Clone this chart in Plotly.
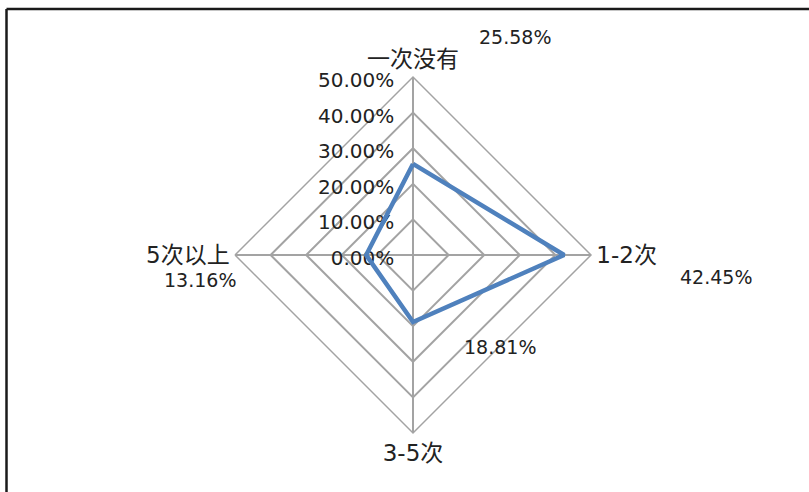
import plotly.graph_objects as go

categories = ["一次没有", "1-2次", "3-5次", "5次以上"]
values = [0.2558, 0.4245, 0.1881, 0.1316]
tick_vals = [0, 0.1, 0.2, 0.3, 0.4, 0.5]

FONT = "DejaVu Sans, Noto Sans CJK SC, sans-serif"
GRID = "#a3a3a3"
LINE = "#4f81bd"

fig = go.Figure()
fig.add_trace(go.Scatterpolar(
    r=values + values[:1],
    theta=categories + categories[:1],
    mode="lines",
    line=dict(color=LINE, width=4.5),
    showlegend=False,
    hoverinfo="skip",
))

# data label positions (paper px) for each category
label_pos = [(515, 37), (716, 277), (500, 347), (200, 280)]
W, H = 809, 492
for v, (px, py) in zip(values, label_pos):
    fig.add_annotation(
        x=px / W, y=1 - py / H, xref="paper", yref="paper",
        text=f"{v*100:.2f}%", showarrow=False,
        font=dict(family=FONT, size=19, color="#222222"),
        xanchor="center", yanchor="middle",
    )

fig.update_layout(
    width=W, height=H,
    margin=dict(l=0, r=0, t=0, b=0),
    paper_bgcolor="white",
    plot_bgcolor="white",
    font=dict(family=FONT, size=20, color="#222222"),
    polar=dict(
        domain=dict(x=[235 / W, 591 / W], y=[1 - 433 / H, 1 - 77 / H]),
        bgcolor="white",
        gridshape="linear",
        radialaxis=dict(
            range=[0, 0.5],
            tickvals=tick_vals,
            tickformat=".2%",
            angle=90,
            side="counterclockwise",
            showline=True,
            linecolor=GRID,
            linewidth=1.5,
            gridcolor=GRID,
            gridwidth=1.5,
            ticks="",
            tickfont=dict(family=FONT, size=20, color="#222222"),
            layer="below traces",
        ),
        angularaxis=dict(
            direction="clockwise",
            rotation=90,
            showline=True,
            linecolor=GRID,
            linewidth=1.5,
            gridcolor=GRID,
            gridwidth=1.5,
            ticks="",
            tickfont=dict(family=FONT, size=23, color="#222222"),
            layer="below traces",
        ),
    ),
    shapes=[
        dict(type="line", xref="paper", yref="paper", x0=6.5 / W, x1=1, y0=1 - 9 / H, y1=1 - 9 / H,
             line=dict(color="#1a1a1a", width=2.5)),
        dict(type="line", xref="paper", yref="paper", x0=6.5 / W, x1=6.5 / W, y0=0, y1=1 - 9 / H,
             line=dict(color="#1a1a1a", width=2.5)),
    ],
)

fig.write_html("out.html", config={"displayModeBar": False},
               post_script="document.body.style.margin='0';")
